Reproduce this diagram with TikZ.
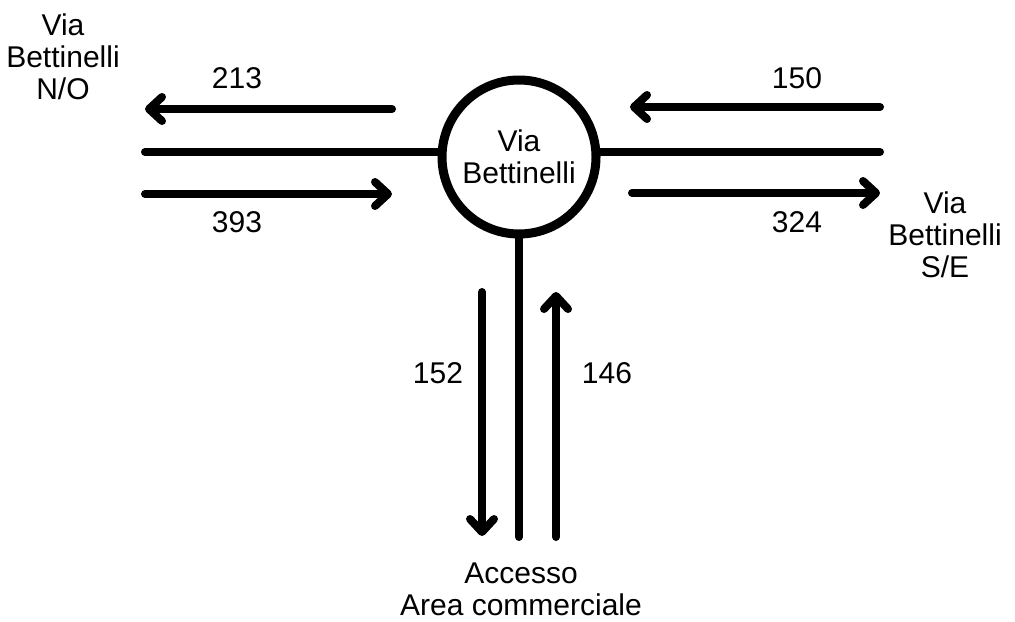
\documentclass[tikz,border=0pt]{standalone}
\usepackage{fontspec}
\setmainfont{Liberation Sans}
\usetikzlibrary{arrows.meta,positioning}

\begin{document}
\begin{tikzpicture}[
    x=0.5pt, y=-0.5pt,
    hub/.style={circle, draw, line width=4.5pt, minimum size=77pt, inner sep=0pt,
                align=center, font=\fontsize{15}{16}\selectfont},
    road/.style={line width=4pt, line cap=round},
    flow/.style={line width=4pt, line cap=round, line join=round,
                 -{Straight Barb[length=6.5pt, width=12pt, round]}},
    lbl/.style={align=center, font=\fontsize{15}{16}\selectfont}
  ]
    \useasboundingbox (0,0) rectangle (1015,621);

    \node[hub] (hub) at (519,157) {Via\\Bettinelli};

    % road axes
    \coordinate (westend)  at (145,152);
    \coordinate (eastend)  at (880,152);
    \coordinate (southend) at (519,537);
    \draw[road] (westend) -- (westend -| hub.west);
    \draw[road] (eastend) -- (eastend -| hub.east);
    \draw[road] (hub.south) -- (southend);

    % flows
    \coordinate (nwout) at (392,109);  \coordinate (nwtip) at (145,109);
    \coordinate (nwin)  at (145,194);  \coordinate (nwhead) at (392,194);
    \coordinate (seout) at (880,107);  \coordinate (setip) at (630,107);
    \coordinate (sein)  at (632,193);  \coordinate (sehead) at (880,193);
    \coordinate (sdtop) at (482,292);  \coordinate (sdtip) at (482,536);
    \coordinate (subot) at (556,537);  \coordinate (sutip) at (556,292);
    \draw[flow] (nwout) -- (nwtip);
    \draw[flow] (nwin)  -- (nwhead);
    \draw[flow] (seout) -- (setip);
    \draw[flow] (sein)  -- (sehead);
    \draw[flow] (sdtop) -- (sdtip);
    \draw[flow] (subot) -- (sutip);

    % counts
    \node[lbl] (n213) at (237,78)  {213};
    \node[lbl] (n393) at (237,222) {393};
    \node[lbl] (n150) at (797,78)  {150};
    \node[lbl] (n324) at (797,222) {324};
    \node[lbl] (n152) at (438,373) {152};
    \node[lbl] (n146) at (607,373) {146};

    % ends
    \node[lbl] (nwname) at (63,57)   {Via\\Bettinelli\\N/O};
    \node[lbl] (sename) at (945,235) {Via\\Bettinelli\\S/E};
    \node[lbl] (sname)  at (521,589) {Accesso\\Area commerciale};
  \end{tikzpicture}
\end{document}
